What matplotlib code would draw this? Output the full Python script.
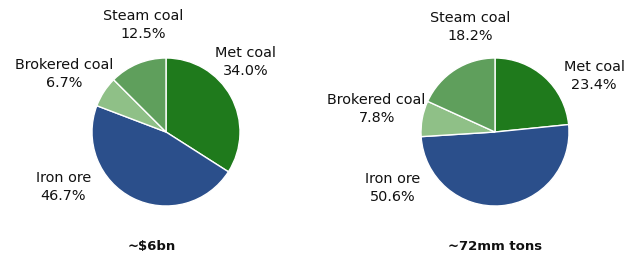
import matplotlib.pyplot as plt

# shares (%) - order: Met coal, Iron ore, Brokered coal, Steam coal (clockwise from 12 o'clock)
categories = ['Met coal', 'Iron ore', 'Brokered coal', 'Steam coal']
revenue_share = [34.0, 46.7, 6.7, 12.5]
tonnage_share = [23.4, 50.6, 7.8, 18.2]
titles = ['~$6bn', '~72mm tons']

colors = ['#1f7a1c', '#2b4f8b', '#8fc087', '#5f9f5c']

fig = plt.figure(figsize=(6.36, 2.61), dpi=100)
fig.patch.set_facecolor('white')

W, H = 636, 261


def pie_axes(cx, cy, r):
    # pie centre / radius given in pixels (from top-left)
    return fig.add_axes([(cx - r) / W, (H - cy - r) / H, 2 * r / W, 2 * r / H])


# label centres in units of pie radius
label_pos = [
    {'Met coal': (1.08, 0.95), 'Iron ore': (-1.39, -0.74),
     'Brokered coal': (-1.38, 0.78), 'Steam coal': (-0.31, 1.45)},
    {'Met coal': (1.34, 0.76), 'Iron ore': (-1.38, -0.76),
     'Brokered coal': (-1.60, 0.31), 'Steam coal': (-0.33, 1.42)},
]
title_pos = [(-0.19, -1.55), (0.0, -1.55)]

axes = [pie_axes(166, 132, 74), pie_axes(495, 132, 74)]
for ax, vals, title, lp, tp in zip(axes, [revenue_share, tonnage_share], titles, label_pos, title_pos):
    ax.pie(vals, colors=colors, startangle=90, counterclock=False,
           wedgeprops=dict(edgecolor='white', linewidth=1.0))
    ax.set_xlim(-1, 1)
    ax.set_ylim(-1, 1)
    ax.set_aspect('equal')
    ax.axis('off')
    for cat, v in zip(categories, vals):
        x, y = lp[cat]
        ax.text(x, y, f'{cat}\n{v:.1f}%', ha='center', va='center',
                fontsize=10.4, linespacing=1.35, color='#111111', clip_on=False)
    ax.text(tp[0], tp[1], title, ha='center', va='center', fontsize=9.5,
            fontweight='bold', color='#111111', clip_on=False)

fig.savefig('out.png', dpi=100, facecolor='white')
